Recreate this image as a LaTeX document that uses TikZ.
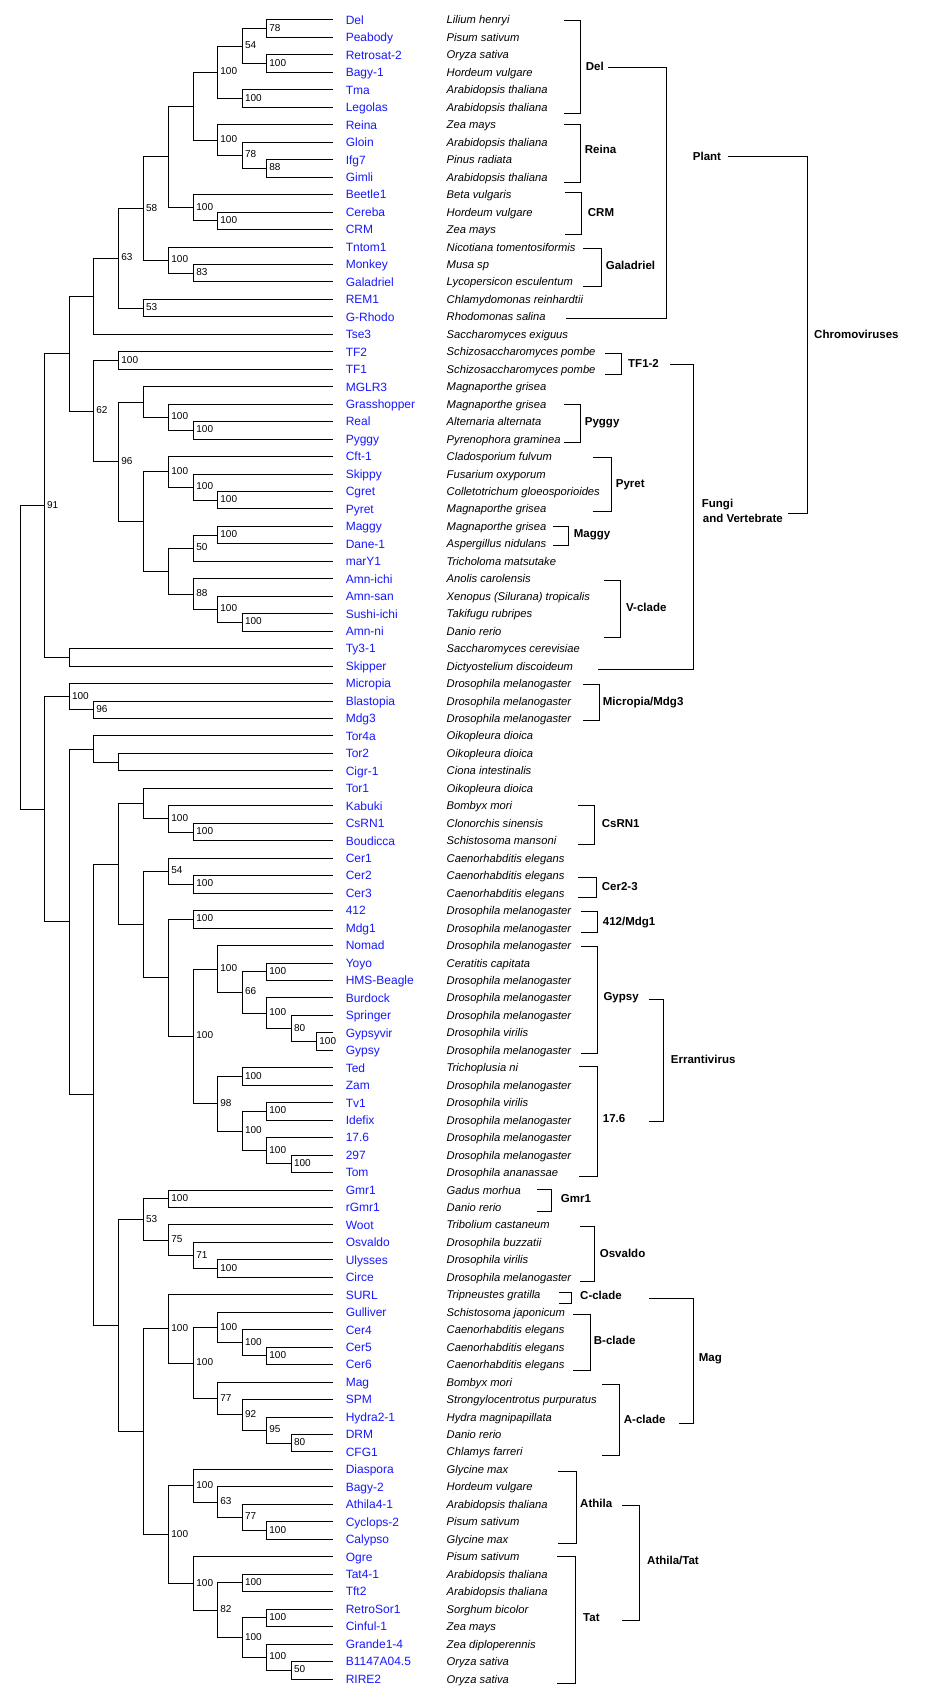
\documentclass[tikz,border=0pt]{standalone}
\usepackage{fontspec}
\setmainfont{Liberation Sans}
\usetikzlibrary{calc}
\definecolor{leafblue}{RGB}{25,25,255}
\newcommand{\PhyN}[4]{%
  \path ($(#3)!0.5!(#4)$) coordinate (#1m);
  \coordinate (#1) at (L#2 |- #1m);
  \draw[tree] (#3) -| (#1) |- (#4);
}
\newcommand{\PhyB}[2]{\node[boot] (b#1) at (#1) {#2};}
\newcommand{\Brk}[4]{\draw[tree] (#1,#3) -- (#2,#3) -- (#2,#4) -- (#1,#4);}
\tikzset{
  tree/.style={line width=1pt},
  leafname/.style={anchor=base west, inner sep=0pt, text=leafblue, font=\fontsize{12}{14}\selectfont, xshift=12.3pt, yshift=-4.3pt},
  species/.style={anchor=base west, inner sep=0pt, font=\itshape\fontsize{11.2}{13}\selectfont, yshift=-4pt},
  boot/.style={anchor=base west, inner sep=0pt, font=\fontsize{10}{12}\selectfont, xshift=2.5pt, yshift=-2.5pt},
  clab/.style={anchor=base west, inner sep=0pt, font=\bfseries\fontsize{11.5}{13}\selectfont, yshift=-4.1pt},
}
\begin{document}
\begin{tikzpicture}[x=1pt,y=-1pt]
\fill[white] (0,0) rectangle (935,1707);
\useasboundingbox (0,0) rectangle (935,1707);
% tree levels
\coordinate (L0) at (20.7,0);
\coordinate (L1) at (44.3,0);
\coordinate (L2) at (69.3,0);
\coordinate (L3) at (93.7,0);
\coordinate (L4) at (118.7,0);
\coordinate (L5) at (143.3,0);
\coordinate (L6) at (168.7,0);
\coordinate (L7) at (193.7,0);
\coordinate (L8) at (217.7,0);
\coordinate (L9) at (242.3,0);
\coordinate (L10) at (266.7,0);
\coordinate (L11) at (291.3,0);
\coordinate (L12) at (316.7,0);
% leaves
\foreach \i/\nm/\sp in {
1/Del/Lilium henryi,
2/Peabody/Pisum sativum,
3/Retrosat-2/Oryza sativa,
4/Bagy-1/Hordeum vulgare,
5/Tma/Arabidopsis thaliana,
6/Legolas/Arabidopsis thaliana,
7/Reina/Zea mays,
8/Gloin/Arabidopsis thaliana,
9/Ifg7/Pinus radiata,
10/Gimli/Arabidopsis thaliana,
11/Beetle1/Beta vulgaris,
12/Cereba/Hordeum vulgare,
13/CRM/Zea mays,
14/Tntom1/Nicotiana tomentosiformis,
15/Monkey/Musa sp,
16/Galadriel/Lycopersicon esculentum,
17/REM1/Chlamydomonas reinhardtii,
18/G-Rhodo/Rhodomonas salina,
19/Tse3/Saccharomyces exiguus,
20/TF2/Schizosaccharomyces pombe,
21/TF1/Schizosaccharomyces pombe,
22/MGLR3/Magnaporthe grisea,
23/Grasshopper/Magnaporthe grisea,
24/Real/Alternaria alternata,
25/Pyggy/Pyrenophora graminea,
26/Cft-1/Cladosporium fulvum,
27/Skippy/Fusarium oxyporum,
28/Cgret/Colletotrichum gloeosporioides,
29/Pyret/Magnaporthe grisea,
30/Maggy/Magnaporthe grisea,
31/Dane-1/Aspergillus nidulans,
32/marY1/Tricholoma matsutake,
33/Amn-ichi/Anolis carolensis,
34/Amn-san/Xenopus (Silurana) tropicalis,
35/Sushi-ichi/Takifugu rubripes,
36/Amn-ni/Danio rerio,
37/Ty3-1/Saccharomyces cerevisiae,
38/Skipper/Dictyostelium discoideum,
39/Micropia/Drosophila melanogaster,
40/Blastopia/Drosophila melanogaster,
41/Mdg3/Drosophila melanogaster,
42/Tor4a/Oikopleura dioica,
43/Tor2/Oikopleura dioica,
44/Cigr-1/Ciona intestinalis,
45/Tor1/Oikopleura dioica,
46/Kabuki/Bombyx mori,
47/CsRN1/Clonorchis sinensis,
48/Boudicca/Schistosoma mansoni,
49/Cer1/Caenorhabditis elegans,
50/Cer2/Caenorhabditis elegans,
51/Cer3/Caenorhabditis elegans,
52/412/Drosophila melanogaster,
53/Mdg1/Drosophila melanogaster,
54/Nomad/Drosophila melanogaster,
55/Yoyo/Ceratitis capitata,
56/HMS-Beagle/Drosophila melanogaster,
57/Burdock/Drosophila melanogaster,
58/Springer/Drosophila melanogaster,
59/Gypsyvir/Drosophila virilis,
60/Gypsy/Drosophila melanogaster,
61/Ted/Trichoplusia ni,
62/Zam/Drosophila melanogaster,
63/Tv1/Drosophila virilis,
64/Idefix/Drosophila melanogaster,
65/17.6/Drosophila melanogaster,
66/297/Drosophila melanogaster,
67/Tom/Drosophila ananassae,
68/Gmr1/Gadus morhua,
69/rGmr1/Danio rerio,
70/Woot/Tribolium castaneum,
71/Osvaldo/Drosophila buzzatii,
72/Ulysses/Drosophila virilis,
73/Circe/Drosophila melanogaster,
74/SURL/Tripneustes gratilla,
75/Gulliver/Schistosoma japonicum,
76/Cer4/Caenorhabditis elegans,
77/Cer5/Caenorhabditis elegans,
78/Cer6/Caenorhabditis elegans,
79/Mag/Bombyx mori,
80/SPM/Strongylocentrotus purpuratus,
81/Hydra2-1/Hydra magnipapillata,
82/DRM/Danio rerio,
83/CFG1/Chlamys farreri,
84/Diaspora/Glycine max,
85/Bagy-2/Hordeum vulgare,
86/Athila4-1/Arabidopsis thaliana,
87/Cyclops-2/Pisum sativum,
88/Calypso/Glycine max,
89/Ogre/Pisum sativum,
90/Tat4-1/Arabidopsis thaliana,
91/Tft2/Arabidopsis thaliana,
92/RetroSor1/Sorghum bicolor,
93/Cinful-1/Zea mays,
94/Grande1-4/Zea diploperennis,
95/B1147A04.5/Oryza sativa,
96/RIRE2/Oryza sativa}{
  \coordinate (l\i) at (333.3,{20+17.463*(\i-1)});
  \node[leafname] (n\i) at (l\i) {\nm};
  \node[species] (s\i) at (446.5,{20+17.463*(\i-1)}) {\sp};
}
% ---------- upper clade ----------
\PhyN{iP}{10}{l1}{l2} \PhyB{iP}{78}
\PhyN{iQ}{10}{l3}{l4} \PhyB{iQ}{100}
\PhyN{iN}{9}{iP}{iQ} \PhyB{iN}{54}
\PhyN{iO}{9}{l5}{l6} \PhyB{iO}{100}
\PhyN{iL}{8}{iN}{iO} \PhyB{iL}{100}
\PhyN{iS}{10}{l9}{l10} \PhyB{iS}{88}
\PhyN{iR}{9}{l8}{iS} \PhyB{iR}{78}
\PhyN{iM}{8}{l7}{iR} \PhyB{iM}{100}
\PhyN{iJ}{7}{iL}{iM}
\PhyN{iT}{8}{l12}{l13} \PhyB{iT}{100}
\PhyN{iK}{7}{l11}{iT} \PhyB{iK}{100}
\PhyN{iH}{6}{iJ}{iK}
\PhyN{iU}{7}{l15}{l16} \PhyB{iU}{83}
\PhyN{iI}{6}{l14}{iU} \PhyB{iI}{100}
\PhyN{iF}{5}{iH}{iI} \PhyB{iF}{58}
\PhyN{iG}{5}{l17}{l18} \PhyB{iG}{53}
\PhyN{iE}{4}{iF}{iG} \PhyB{iE}{63}
\PhyN{iC}{3}{iE}{l19}
\PhyN{iV}{4}{l20}{l21} \PhyB{iV}{100}
\PhyN{iAA}{7}{l24}{l25} \PhyB{iAA}{100}
\PhyN{iZ}{6}{l23}{iAA} \PhyB{iZ}{100}
\PhyN{iX}{5}{l22}{iZ}
\PhyN{iEE}{8}{l28}{l29} \PhyB{iEE}{100}
\PhyN{iDD}{7}{l27}{iEE} \PhyB{iDD}{100}
\PhyN{iBB}{6}{l26}{iDD} \PhyB{iBB}{100}
\PhyN{iHH}{8}{l30}{l31} \PhyB{iHH}{100}
\PhyN{iFF}{7}{iHH}{l32} \PhyB{iFF}{50}
\PhyN{iJJ}{9}{l35}{l36} \PhyB{iJJ}{100}
\PhyN{iII}{8}{l34}{iJJ} \PhyB{iII}{100}
\PhyN{iGG}{7}{l33}{iII} \PhyB{iGG}{88}
\PhyN{iCC}{6}{iFF}{iGG}
\PhyN{iY}{5}{iBB}{iCC}
\PhyN{iW}{4}{iX}{iY} \PhyB{iW}{96}
\PhyN{iD}{3}{iV}{iW} \PhyB{iD}{62}
\PhyN{iA}{2}{iC}{iD}
\PhyN{iB}{2}{l37}{l38}
\PhyN{iNa}{1}{iA}{iB} \PhyB{iNa}{91}
% ---------- lower clade ----------
\PhyN{iMM}{3}{l40}{l41} \PhyB{iMM}{96}
\PhyN{iKK}{2}{l39}{iMM} \PhyB{iKK}{100}
\PhyN{iPP}{4}{l43}{l44}
\PhyN{iNN}{3}{l42}{iPP}
\PhyN{iVV}{7}{l47}{l48} \PhyB{iVV}{100}
\PhyN{iUU}{6}{l46}{iVV} \PhyB{iUU}{100}
\PhyN{iSS}{5}{l45}{iUU}
\PhyN{iYY}{7}{l50}{l51} \PhyB{iYY}{100}
\PhyN{iWW}{6}{l49}{iYY} \PhyB{iWW}{54}
\PhyN{iZZ}{7}{l52}{l53} \PhyB{iZZ}{100}
\PhyN{iAF}{10}{l55}{l56} \PhyB{iAF}{100}
\PhyN{iAI}{12}{l59}{l60} \PhyB{iAI}{100}
\PhyN{iAH}{11}{l58}{iAI} \PhyB{iAH}{80}
\PhyN{iAG}{10}{l57}{iAH} \PhyB{iAG}{100}
\PhyN{iAE}{9}{iAF}{iAG} \PhyB{iAE}{66}
\PhyN{iAC}{8}{l54}{iAE} \PhyB{iAC}{100}
\PhyN{iAJ}{9}{l61}{l62} \PhyB{iAJ}{100}
\PhyN{iAL}{10}{l63}{l64} \PhyB{iAL}{100}
\PhyN{iAN}{11}{l66}{l67} \PhyB{iAN}{100}
\PhyN{iAM}{10}{l65}{iAN} \PhyB{iAM}{100}
\PhyN{iAK}{9}{iAL}{iAM} \PhyB{iAK}{100}
\PhyN{iAD}{8}{iAJ}{iAK} \PhyB{iAD}{98}
\PhyN{iAB}{7}{iAC}{iAD} \PhyB{iAB}{100}
\PhyN{iXX}{6}{iZZ}{iAB}
\PhyN{iTT}{5}{iWW}{iXX}
\PhyN{iQQ}{4}{iSS}{iTT}
\PhyN{iAQ}{6}{l68}{l69} \PhyB{iAQ}{100}
\PhyN{iAT}{8}{l72}{l73} \PhyB{iAT}{100}
\PhyN{iAS}{7}{l71}{iAT} \PhyB{iAS}{71}
\PhyN{iAR}{6}{l70}{iAS} \PhyB{iAR}{75}
\PhyN{iAO}{5}{iAQ}{iAR} \PhyB{iAO}{53}
\PhyN{iBA}{10}{l77}{l78} \PhyB{iBA}{100}
\PhyN{iAZ}{9}{l76}{iBA} \PhyB{iAZ}{100}
\PhyN{iAX}{8}{l75}{iAZ} \PhyB{iAX}{100}
\PhyN{iBD}{11}{l82}{l83} \PhyB{iBD}{80}
\PhyN{iBC}{10}{l81}{iBD} \PhyB{iBC}{95}
\PhyN{iBBb}{9}{l80}{iBC} \PhyB{iBBb}{92}
\PhyN{iAY}{8}{l79}{iBBb} \PhyB{iAY}{77}
\PhyN{iAW}{7}{iAX}{iAY} \PhyB{iAW}{100}
\PhyN{iAU}{6}{l74}{iAW} \PhyB{iAU}{100}
\PhyN{iBI}{10}{l87}{l88} \PhyB{iBI}{100}
\PhyN{iBH}{9}{l86}{iBI} \PhyB{iBH}{77}
\PhyN{iBG}{8}{l85}{iBH} \PhyB{iBG}{63}
\PhyN{iBE}{7}{l84}{iBG} \PhyB{iBE}{100}
\PhyN{iBK}{9}{l90}{l91} \PhyB{iBK}{100}
\PhyN{iBM}{10}{l92}{l93} \PhyB{iBM}{100}
\PhyN{iBO}{11}{l95}{l96} \PhyB{iBO}{50}
\PhyN{iBN}{10}{l94}{iBO} \PhyB{iBN}{100}
\PhyN{iBL}{9}{iBM}{iBN} \PhyB{iBL}{100}
\PhyN{iBJ}{8}{iBK}{iBL} \PhyB{iBJ}{82}
\PhyN{iBF}{7}{l89}{iBJ} \PhyB{iBF}{100}
\PhyN{iAV}{6}{iBE}{iBF} \PhyB{iAV}{100}
\PhyN{iAP}{5}{iAU}{iAV}
\PhyN{iRR}{4}{iAO}{iAP}
\PhyN{iOO}{3}{iQQ}{iRR}
\PhyN{iLL}{2}{iNN}{iOO}
\PhyN{iNb}{1}{iKK}{iLL}
\PhyN{iRoot}{0}{iNa}{iNb}
% ---------- clade brackets ----------
\Brk{564}{580.3}{20.4}{113.2}     \node[clab] (cDel) at (585.7,66) {Del};
\Brk{564}{580.3}{124.3}{182.1}    \node[clab] (cReina) at (584.7,149.6) {Reina};
\Brk{565.3}{581.3}{192.9}{234.3}  \node[clab] (cCRM) at (587.7,212.5) {CRM};
\Brk{583.3}{601.7}{248.2}{286.4}  \node[clab] (cGal) at (605.7,265.4) {Galadriel};
\Brk{605}{621.7}{353.6}{374.3}    \node[clab] (cTF) at (628,363.6) {TF1-2};
\Brk{564.3}{580.3}{404.6}{442.1}  \node[clab] (cPyggy) at (584.7,421.5) {Pyggy};
\Brk{593.3}{611.7}{457.5}{511.8}  \node[clab] (cPyret) at (615.7,483.5) {Pyret};
\Brk{553.3}{568.3}{526.1}{545.7}  \node[clab] (cMaggy) at (573.7,533) {Maggy};
\Brk{604}{620.7}{580.7}{637.3}    \node[clab] (cV) at (626,607.3) {V-clade};
\Brk{583.3}{599}{684.7}{720.9}    \node[clab] (cMic) at (602.7,701.7) {Micropia/Mdg3};
\Brk{578}{594.7}{805.3}{844.5}    \node[clab] (cCs) at (601.7,823.8) {CsRN1};
\Brk{578}{596.3}{877.4}{897}      \node[clab] (cCer) at (601.7,886.7) {Cer2-3};
\Brk{581}{597.3}{911.8}{932.2}    \node[clab] (c412) at (602.7,921.4) {412/Mdg1};
\Brk{581}{597.3}{946.6}{1053.9}   \node[clab] (cGypsy) at (603.3,996.5) {Gypsy};
\Brk{579}{597.3}{1066.5}{1176.2}  \node[clab] (c176) at (602.7,1118.6) {17.6};
\Brk{537.3}{551.7}{1189.3}{1211.7} \node[clab] (cGmr) at (560.7,1198.6) {Gmr1};
\Brk{580.3}{594.7}{1226.3}{1281.4} \node[clab] (cOsv) at (599.7,1253.7) {Osvaldo};
\Brk{559.3}{571.7}{1292.6}{1303.5} \node[clab] (cC) at (580,1295.8) {C-clade};
\Brk{573}{590.7}{1314.3}{1370.8}  \node[clab] (cB) at (593.7,1340.5) {B-clade};
\Brk{602}{619.3}{1384.7}{1455.1}  \node[clab] (cA) at (623.7,1419.8) {A-clade};
\Brk{558}{576.3}{1471.5}{1543.4}  \node[clab] (cAth) at (580,1503.4) {Athila};
\Brk{557}{575.3}{1556.5}{1683.8}  \node[clab] (cTat) at (583,1617.6) {Tat};
% ---------- higher groups ----------
\draw[tree] (608.3,67.1) -- (666.3,67.1) -- (666.3,318.9) -- (566,318.9);
\node[clab] (gPlant) at (692.7,156.4) {Plant};
\draw[tree] (728.3,156.4) -- (807.3,156.4) -- (807.3,513.2) -- (787.7,513.2);
\node[clab] (gChromo) at (814,333.9) {Chromoviruses};
\draw[tree] (670,364.3) -- (693.3,364.3) -- (693.3,669.1) -- (598.3,669.1);
\node[clab] (gFungi) at (701.7,502.9) {Fungi};
\node[clab] (gVert) at (702.7,518.6) {and Vertebrate};
\draw[tree] (649.3,999.9) -- (663.3,999.9) -- (663.3,1121.6) -- (649.3,1121.6);
\node[clab] (gErr) at (670.7,1059.8) {Errantivirus};
\draw[tree] (649.3,1298.2) -- (693.3,1298.2) -- (693.3,1423.3) -- (679.3,1423.3);
\node[clab] (gMag) at (698.7,1357.4) {Mag};
\draw[tree] (622.3,1505.2) -- (639.3,1505.2) -- (639.3,1620.9) -- (622.3,1620.9);
\node[clab] (gAT) at (647,1560.7) {Athila/Tat};
\end{tikzpicture}
\end{document}
